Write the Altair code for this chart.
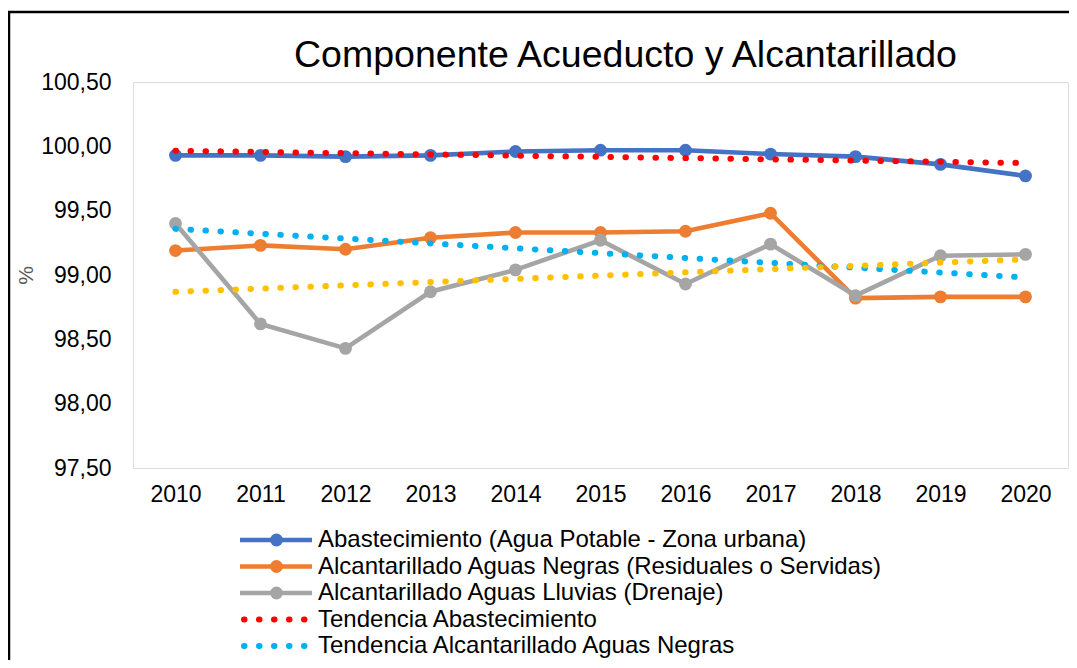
import altair as alt
import pandas as pd

# ---------------- data ----------------
years = [2010, 2011, 2012, 2013, 2014, 2015, 2016, 2017, 2018, 2019, 2020]
series_names = [
    "Abastecimiento (Agua Potable - Zona urbana)",
    "Alcantarillado Aguas Negras (Residuales o Servidas)",
    "Alcantarillado Aguas Lluvias (Drenaje)",
]
abastecimiento = [99.93, 99.93, 99.92, 99.93, 99.96, 99.97, 99.97, 99.94, 99.92, 99.86, 99.77]
aguas_negras = [99.19, 99.23, 99.20, 99.29, 99.33, 99.33, 99.34, 99.48, 98.82, 98.83, 98.83]
aguas_lluvias = [99.40, 98.62, 98.43, 98.87, 99.04, 99.27, 98.93, 99.24, 98.84, 99.15, 99.16]
trend_names = [
    "Tendencia Abastecimiento",
    "Tendencia Alcantarillado Aguas Negras",
]
y_ticks = [97.5, 98.0, 98.5, 99.0, 99.5, 100.0, 100.5]

series_colors = ["#4472C4", "#ED7D31", "#A5A5A5"]
trend_colors = ["#FF0000", "#00B0F0", "#FFC000"]

rows = []
for name, vals in zip(series_names, [abastecimiento, aguas_negras, aguas_lluvias]):
    for yr, v in zip(years, vals):
        rows.append({"series": name, "year": yr, "value": v})
df = pd.DataFrame(rows)

legend_names = series_names + trend_names
legend_df = pd.DataFrame({
    "name": legend_names,
    "kind": ["serie"] * 3 + ["trend"] * 2,
})

FONT = "Liberation Sans"

x_enc = alt.X(
    "year:Q",
    scale=alt.Scale(domain=[2009.5, 2020.5], nice=False, zero=False),
    axis=alt.Axis(values=years, format="d", title=None, grid=False, ticks=False,
                  domain=False, labelFontSize=23, labelColor="black", labelPadding=15,
                  labelFont=FONT),
)
y_scale = alt.Scale(domain=[97.5, 100.5], nice=False, zero=False)
y_main = alt.Y(
    "value:Q",
    scale=y_scale,
    axis=alt.Axis(values=y_ticks, title="%", grid=False, ticks=False, domain=False,
                  labelExpr="replace(format(datum.value, '.2f'), '.', ',')",
                  labelFontSize=23, labelColor="black", labelPadding=22, labelFont=FONT,
                  titleFontSize=21, titleColor="#595959", titleFontWeight="normal",
                  titlePadding=4, titleFont=FONT),
)
y_noaxis = alt.Y("value:Q", scale=y_scale, axis=None)

series_color = alt.Color("series:N", scale=alt.Scale(domain=series_names, range=series_colors), legend=None)
trend_color = alt.Color("series:N", scale=alt.Scale(domain=series_names, range=trend_colors), legend=None)

base = alt.Chart(df)

lines = base.mark_line(strokeWidth=4.6).encode(x=x_enc, y=y_main, color=series_color)
points = base.mark_point(filled=True, size=165, opacity=1).encode(x=x_enc, y=y_noaxis, color=series_color)
trends = base.transform_regression(
    "year", "value", groupby=["series"]
).mark_line(strokeWidth=6, strokeCap="round", strokeDash=[0.5, 14.5]).encode(
    x=x_enc, y=y_noaxis, color=trend_color
)

# outer chart frame (decoration)
frame = alt.Chart(pd.DataFrame({"a": [0]})).mark_rect(
    fill="transparent", stroke="black", strokeWidth=2.5
).encode(
    x=alt.value(-124), x2=alt.value(1100), y=alt.value(-70), y2=alt.value(700)
)

# manual legend
leg_y = alt.Y("name:N", scale=alt.Scale(type="point", domain=legend_names, range=[458, 564], padding=0), axis=None)
leg_color = alt.Color("name:N", scale=alt.Scale(domain=legend_names, range=series_colors + trend_colors[:2]), legend=None)
leg = alt.Chart(legend_df)
leg_solid = leg.transform_filter("datum.kind == 'serie'").mark_rule(strokeWidth=4.7).encode(
    x=alt.value(107), x2=alt.value(179), y=leg_y, color=leg_color)
leg_pts = leg.transform_filter("datum.kind == 'serie'").mark_point(filled=True, size=165, opacity=1).encode(
    x=alt.value(143.5), y=leg_y, color=leg_color)
leg_dots = leg.transform_filter("datum.kind == 'trend'").mark_rule(
    strokeWidth=6, strokeCap="round", strokeDash=[0.5, 14.5]).encode(
    x=alt.value(111), x2=alt.value(179), y=leg_y, color=leg_color)
leg_text = leg.mark_text(align="left", baseline="middle", fontSize=24, font=FONT, color="black").encode(
    x=alt.value(185), y=leg_y, text="name:N")

chart = alt.layer(
    frame, lines, points, trends, leg_solid, leg_pts, leg_dots, leg_text
).resolve_scale(
    y="independent", color="independent"
).properties(
    width=935,
    height=386,
    autosize=alt.AutoSizeParams(type="none"),
    padding={"left": 125, "top": 74, "right": 1, "bottom": 192},
    title=alt.TitleParams(
        "Componente Acueducto y Alcantarillado",
        fontSize=37.5, font=FONT, fontWeight="normal", color="black",
        anchor="middle", dx=25, dy=102, offset=8, baseline="alphabetic",
    ),
).configure_view(
    stroke="black", strokeWidth=2
).configure(
    font=FONT, background="white"
)

chart.save("out.html", embed_options={"renderer": "svg", "actions": False})
